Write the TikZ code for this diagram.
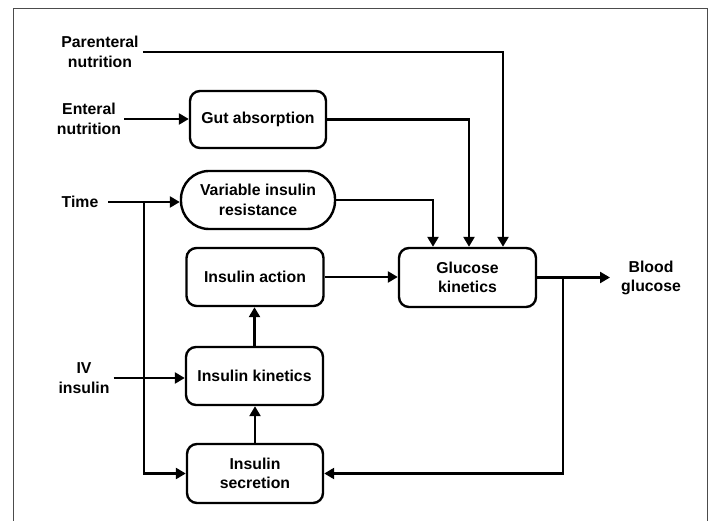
\documentclass[tikz,border=0pt]{standalone}
\usepackage{fontspec}
\setmainfont{Liberation Sans}
\usetikzlibrary{arrows.meta,calc}
\begin{document}
\begin{tikzpicture}[x=1pt,y=-1pt,
  txt/.style={font=\bfseries\fontsize{15.8}{19.5}\selectfont, align=center},
  box/.style={txt, draw, line width=2.4pt, rounded corners=10pt, minimum width=137pt, minimum height=58pt, inner sep=0pt},
  lbl/.style={txt, inner sep=1pt},
  arr/.style={line width=2.4pt, -{Triangle[length=10pt,width=11pt]}}]
\useasboundingbox (0,0) rectangle (713,521);
\draw[black!70, line width=1pt] (13,521) -- (13,9) -- (707,9) -- (707,521);

% boxes
\node[box, minimum width=136pt, minimum height=57pt] (gut) at (258,119.5) {Gut absorption};
\node[box, minimum width=154pt, rounded corners=28pt] (vir) at (258,200) {Variable insulin\\resistance};
\node[box] (ia) at (255,277) {Insulin action};
\node[box, minimum height=59pt] (gk) at (467.5,277.5) {Glucose\\kinetics};
\node[box] (ik) at (254.5,376) {Insulin kinetics};
\node[box, minimum width=136pt, minimum height=59pt] (is) at (255,473.5) {Insulin\\secretion};

% labels
\node[lbl] (par) at (100,52) {Parenteral\\nutrition};
\node[lbl] (ent) at (89,119) {Enteral\\nutrition};
\node[lbl] (time) at (80,202) {Time};
\node[lbl] (iv) at (84,378) {IV\\insulin};
\node[lbl, anchor=west] (bg) at (620,278) {Blood\\glucose};

% helper coordinates
\coordinate (gkA) at ($(gk.north)+(-34.5,0)$);
\coordinate (gkB) at ($(gk.north)+(1.5,0)$);
\coordinate (gkC) at ($(gk.north)+(35.5,0)$);
\coordinate (tb) at (144,202);
\coordinate (fb) at (563,277.5);
\coordinate (bgin) at ($(gk.east -| bg.west)+(-10,0)$);

% connectors
\draw[arr] ([xshift=3pt]par.east) -| (gkC);
\draw[arr] ([xshift=2pt]ent.east) -- (ent.east -| gut.west);
\draw[arr] (gut.east) -| (gkB);
\draw[arr] (vir.east) -| (gkA);
\draw[arr] ([xshift=9pt]time.east) -- (time.east -| vir.west);
\draw[arr] (tb) |- (is.west);
\draw[arr] ([xshift=3pt]iv.east) -- (iv.east -| ik.west);
\draw[arr] (ia.east) -- (ia.east -| gk.west);
\draw[arr] (ik.north) -- (ik.north |- ia.south);
\draw[arr] (is.north) -- (is.north |- ik.south);
\draw[arr] (gk.east) -- (bgin);
\draw[arr] (fb) |- (is.east);
\end{tikzpicture}
\end{document}
